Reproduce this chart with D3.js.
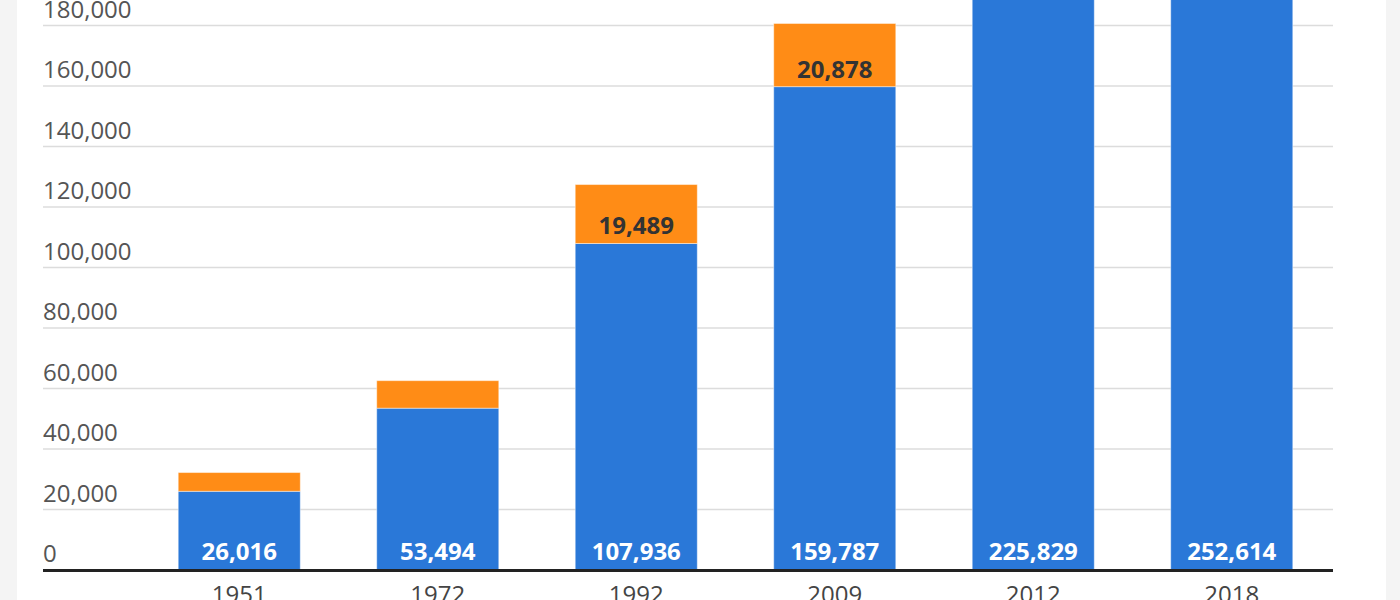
<!DOCTYPE html>
<html>
<head>
<meta charset="utf-8">
<script src="https://cdn.jsdelivr.net/npm/d3@7"></script>
<style>
  body { margin: 0; background: #f4f4f4; }
  svg { display: block; }
</style>
</head>
<body>
<svg id="chart"></svg>
<script>
// data
var years = ["1951", "1972", "1992", "2009", "2012", "2018"]
var blueValues = [26016, 53494, 107936, 159787, 225829, 252614]
// orange segments (only 1992 / 2009 are labelled; others)
var orangeValues = [6200, 9100, 19489, 20878, 23000, 25000]
var yTicks = [0, 20000, 40000, 60000, 80000, 100000, 120000, 140000, 160000, 180000]

var dimensions = {
	width: 1400,
	height: 600,
	panel: { left: 17, right: 1386 },
	plot: { left: 43, right: 1333, bottom: 570 }
}

var svg = d3.select("#chart")
	.attr("width", dimensions.width)
	.attr("height", dimensions.height)

// white panel
svg.append("rect")
	.attr("x", dimensions.panel.left)
	.attr("y", 0)
	.attr("width", dimensions.panel.right - dimensions.panel.left)
	.attr("height", dimensions.height)
	.attr("fill", "#ffffff")

var xScale = d3.scaleBand()
	.domain(years)
	.range([140, 1331])
	.paddingInner(0.385)
	.paddingOuter(0.1925)

var yScale = d3.scaleLinear()
	.domain([0, 180000])
	.range([dimensions.plot.bottom, 25.5])

// gridlines + tick labels
var grid = svg.append("g")
grid.selectAll("line")
	.data(yTicks.filter(d => d > 0))
	.enter()
	.append("line")
	.attr("x1", dimensions.plot.left)
	.attr("x2", dimensions.plot.right)
	.attr("y1", d => yScale(d))
	.attr("y2", d => yScale(d))
	.style("stroke", "#dcdcdc")
	.style("stroke-width", 1.5)

grid.selectAll("text")
	.data(yTicks)
	.enter()
	.append("text")
	.attr("x", dimensions.plot.left)
	.attr("y", d => yScale(d) - 8)
	.text(d => d3.format(",")(d))
	.style("font-family", "'Open Sans', sans-serif")
	.style("font-size", "24px")
	.style("fill", "#555")

var rows = years.map((y, i) => ({ year: y, blue: blueValues[i], orange: orangeValues[i] }))

var bars = svg.append("g")
	.selectAll("g")
	.data(rows)
	.enter()
	.append("g")

bars.append("rect")
	.attr("x", d => xScale(d.year))
	.attr("width", xScale.bandwidth())
	.attr("y", d => yScale(d.blue))
	.attr("height", d => yScale(0) - yScale(d.blue))
	.style("fill", "#2a78d8")
	.style("stroke", "rgba(255,255,255,0.45)")
	.style("stroke-width", 1)

bars.append("rect")
	.attr("x", d => xScale(d.year))
	.attr("width", xScale.bandwidth())
	.attr("y", d => yScale(d.blue + d.orange))
	.attr("height", d => yScale(d.blue) - yScale(d.blue + d.orange))
	.style("fill", "#ff8c16")
	.style("stroke", "rgba(255,255,255,0.45)")
	.style("stroke-width", 1)

bars.append("text")
	.attr("x", d => xScale(d.year) + xScale.bandwidth() / 2)
	.attr("y", d => yScale(0) - 10)
	.attr("text-anchor", "middle")
	.text(d => d3.format(",")(d.blue))
	.style("font-family", "'Open Sans', sans-serif")
	.style("font-weight", "bold")
	.style("font-size", "24px")
	.style("fill", "#ffffff")

bars.filter(d => yScale(d.blue) - yScale(d.blue + d.orange) > 40)
	.append("text")
	.attr("x", d => xScale(d.year) + xScale.bandwidth() / 2)
	.attr("y", d => yScale(d.blue) - 9)
	.attr("text-anchor", "middle")
	.text(d => d3.format(",")(d.orange))
	.style("font-family", "'Open Sans', sans-serif")
	.style("font-weight", "bold")
	.style("font-size", "24px")
	.style("fill", "#333")

// baseline
svg.append("line")
	.attr("x1", dimensions.plot.left)
	.attr("x2", dimensions.plot.right)
	.attr("y1", yScale(0) + 0.5)
	.attr("y2", yScale(0) + 0.5)
	.style("stroke", "#222")
	.style("stroke-width", 3)

// x labels (cut off by the bottom edge)
svg.append("g")
	.selectAll("text")
	.data(years)
	.enter()
	.append("text")
	.attr("x", d => xScale(d) + xScale.bandwidth() / 2)
	.attr("y", 603)
	.attr("text-anchor", "middle")
	.text(d => d)
	.style("font-family", "'Open Sans', sans-serif")
	.style("font-size", "24px")
	.style("fill", "#444")
</script>
</body>
</html>
